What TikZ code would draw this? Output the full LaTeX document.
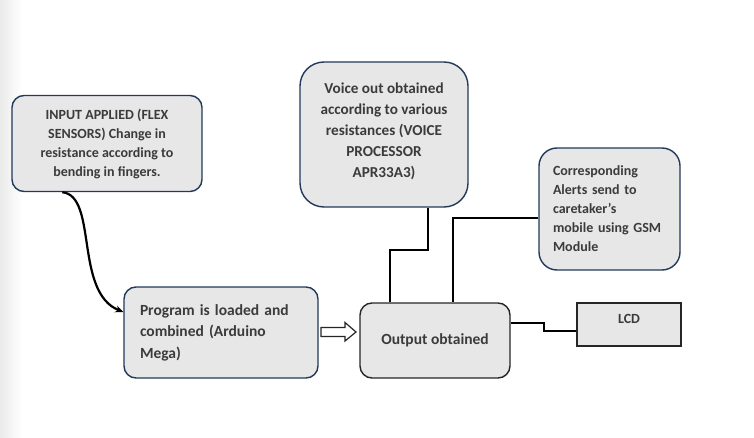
\documentclass[tikz,border=0pt]{standalone}
\usepackage{fontspec}
\setmainfont{Carlito}
\usetikzlibrary{arrows.meta}
\definecolor{boxfill}{HTML}{E7E7E7}
\definecolor{navy}{HTML}{23395B}
\definecolor{txt}{HTML}{3B3B3B}
\tikzset{
  base/.style={draw=navy, line width=1.4pt, fill=boxfill, text=txt, font=\bfseries\fontsize{14}{19}\selectfont, inner sep=0pt},
  roundbox/.style={base, rounded corners=12pt, align=center},
  conn/.style={line width=2.6pt, black},
}
\begin{document}
\begin{tikzpicture}[x=1pt,y=-1pt]
\useasboundingbox (0,0) rectangle (754,438);
\shade[left color=black!8, right color=white] (0,0) rectangle (22,438);
\node[roundbox, minimum width=190, minimum height=96] (inp) at (107,143.5)
  {INPUT APPLIED (FLEX\\SENSORS) Change in\\resistance according to\\bending in fingers.};
\node[roundbox, rounded corners=24pt, minimum width=168, minimum height=145, text depth=9pt, font=\bfseries\fontsize{15.2}{21}\selectfont] (voice) at (384,134.5)
  {Voice out obtained\\according to various\\resistances (VOICE\\PROCESSOR\\APR33A3)};
\node[roundbox, rounded corners=18pt, minimum width=141, minimum height=122, align=left, text width=113, inner xsep=14pt] (gsm) at (609.5,209)
  {Corresponding\\Alerts send to\\caretaker’s\\mobile using GSM\\Module};
\node[roundbox, minimum width=194, minimum height=91, align=left, text width=162, inner xsep=16pt, font=\bfseries\fontsize{15.5}{21.5}\selectfont] (prog) at (221,332.5)
  {Program is loaded and\\combined (Arduino\\Mega)};
\node[roundbox, draw=black!85, minimum width=150, minimum height=75, font=\bfseries\fontsize{15.5}{20}\selectfont] (out) at (435,340.5)
  {Output obtained};
\node[base, draw=black!85, minimum width=104, minimum height=43] (lcd) at (629,324.5) {};
\node[text=txt, font=\bfseries\fontsize{14}{15}\selectfont] (lcdt) at (629,319) {LCD};
% hollow arrow
\coordinate (a1) at (321,327.5);
\draw[line width=1.2pt, draw=black!85, fill=white, line join=miter]
  (a1) -- (345,327.5) -- (345,322.5) -- (356,332) -- (345,341) -- (345,336.5) -- (321,336.5) -- cycle;
% curved connector
\draw[line width=2.2pt, -{Stealth[length=8pt,width=7pt]}]
  (inp.south west) ++(51,0) coordinate (c0)
  (c0) .. controls (98,196) and (74,292) .. (prog.west |- 0,312);
% voice to output
\coordinate (v1) at (428,250);
\coordinate (v2) at (390,250);
\draw[conn] (voice.south -| v1) -- (v1) -- (v2) -- (out.north -| v2);
% gsm to output
\coordinate (g1) at (453,218);
\draw[conn] (out.north -| g1) -- (g1) -- (gsm.west |- g1);
% lcd
\coordinate (l1) at (544,323);
\coordinate (l2) at (544,331);
\draw[conn] (out.east |- l1) -- (l1) -- (l2) -- (lcd.west |- l2);
\end{tikzpicture}
\end{document}
